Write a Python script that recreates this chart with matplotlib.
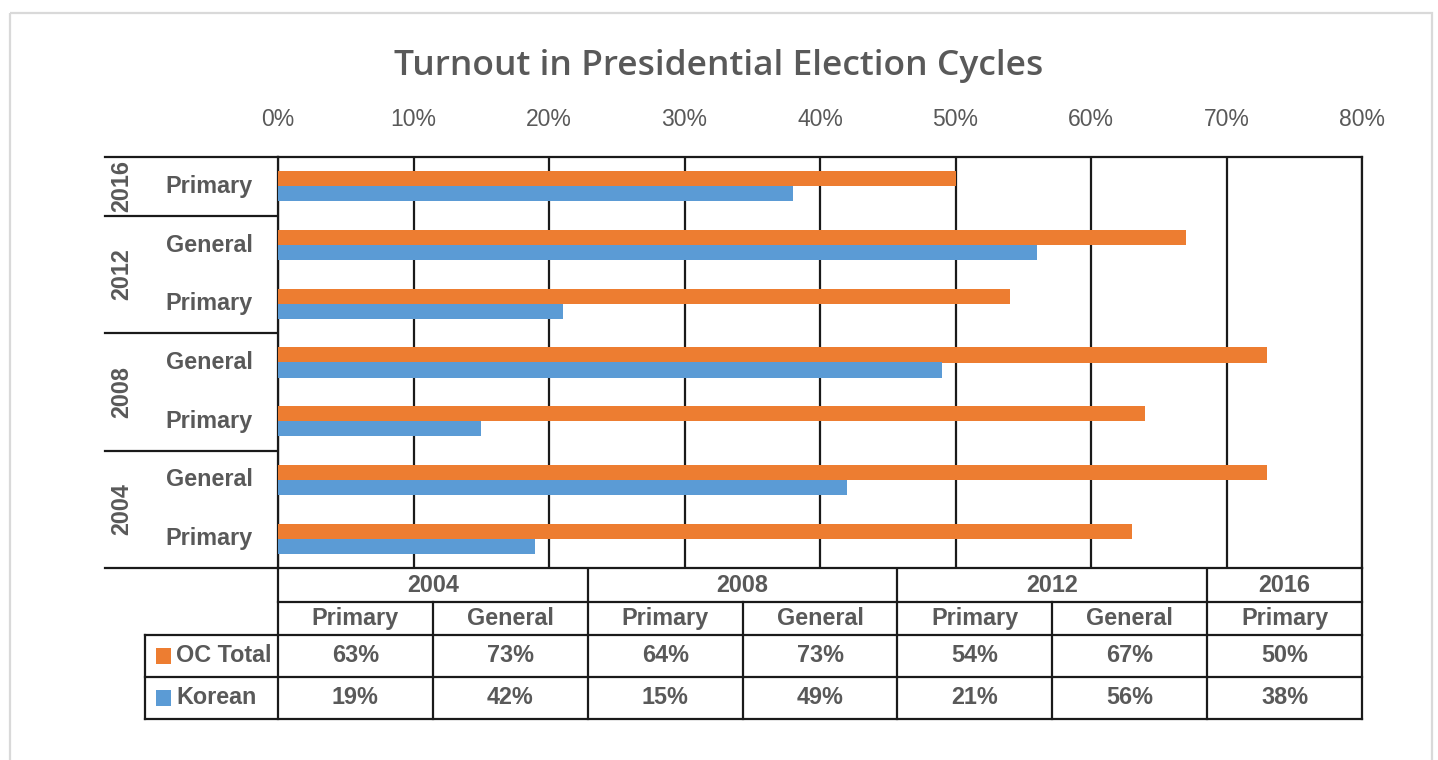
import matplotlib.pyplot as plt
from matplotlib.patches import Rectangle
import matplotlib.transforms as mtransforms

# turnout by election, oldest first (bottom of the chart)
cycle_years = ['2004', '2004', '2008', '2008', '2012', '2012', '2016']
stages = ['Primary', 'General', 'Primary', 'General', 'Primary', 'General', 'Primary']
oc_total = [63, 73, 64, 73, 54, 67, 50]
korean = [19, 42, 15, 49, 21, 56, 38]
series_names = ['OC Total', 'Korean']
x_ticks = [0, 10, 20, 30, 40, 50, 60, 70, 80]

ORANGE = '#ED7D31'
BLUE = '#5B9BD5'
GREY = '#595959'
LINE = '#1a1a1a'
W, H = 1438, 760
L, R, T, B = 278, 1362, 157, 568      # plot area in pixels
LW = 1.6

label_font = dict(family='Liberation Sans', weight='bold', size=16.8, color=GREY)

fig = plt.figure(figsize=(W / 100, H / 100), dpi=100)

# full-figure overlay in pixel units for frame, labels and the data table
over = fig.add_axes([0, 0, 1, 1])
over.set_xlim(0, W)
over.set_ylim(H, 0)
over.axis('off')

ax = fig.add_axes([L / W, 1 - B / H, (R - L) / W, (B - T) / H])

n = len(stages)
ypos = list(range(n))
h = 0.2555
ax.barh([y + h / 2 for y in ypos], oc_total, height=h, color=ORANGE, zorder=3)
ax.barh([y - h / 2 for y in ypos], korean, height=h, color=BLUE, zorder=3)

ax.set_xlim(0, 80)
ax.set_ylim(-0.5, n - 0.5)
ax.set_xticks(x_ticks)
ax.set_xticklabels([f'{v}%' for v in x_ticks], family='Liberation Sans',
                   size=16.5, color=GREY)
ax.xaxis.tick_top()
ax.tick_params(axis='x', length=0, pad=19)
ax.set_yticks([])
ax.grid(axis='x', color=LINE, lw=LW, zorder=1)
ax.set_axisbelow(True)
for s in ax.spines.values():
    s.set_color(LINE)
    s.set_linewidth(LW)

# category axis: stage labels and rotated year groups
ytr = mtransforms.blended_transform_factory(over.transData, ax.transData)
for y, st in zip(ypos, stages):
    over.text(209, y, st, transform=ytr, ha='center', va='center', **label_font)

years = []
for yr in cycle_years:
    if yr not in years:
        years.append(yr)
over.plot([105, L], [-0.5, -0.5], transform=ytr, color=LINE, lw=LW)
for yr in years:
    idx = [i for i, c in enumerate(cycle_years) if c == yr]
    over.text(122, (idx[0] + idx[-1]) / 2, yr, transform=ytr, rotation=90,
              ha='center', va='center', **label_font)
    over.plot([105, L], [idx[-1] + 0.5] * 2, transform=ytr, color=LINE, lw=LW)

# data table under the plot
cw = (R - L) / n
rows = [B, 602, 635, 677, 719]
LEG = 145


def hline(y, x0, x1):
    over.plot([x0, x1], [y, y], color=LINE, lw=LW, solid_capstyle='projecting')


def vline(x, y0, y1):
    over.plot([x, x], [y0, y1], color=LINE, lw=LW, solid_capstyle='projecting')


hline(rows[1], L, R)
for y in rows[2:]:
    hline(y, LEG, R)
vline(LEG, rows[2], rows[4])
vline(L, rows[0], rows[4])
vline(R, rows[0], rows[4])

for yr in years:
    idx = [i for i, c in enumerate(cycle_years) if c == yr]
    x0, x1 = L + idx[0] * cw, L + (idx[-1] + 1) * cw
    over.text((x0 + x1) / 2, (rows[0] + rows[1]) / 2 + 1, yr,
              ha='center', va='center', **label_font)
    if idx[-1] + 1 < n:
        vline(x1, rows[0], rows[4])
    for i in idx[:-1]:
        vline(L + (i + 1) * cw, rows[1], rows[4])

for i in range(n):
    xc = L + (i + 0.5) * cw
    over.text(xc, (rows[1] + rows[2]) / 2, stages[i], ha='center', va='center', **label_font)
    over.text(xc, (rows[2] + rows[3]) / 2, f'{oc_total[i]}%', ha='center', va='center', **label_font)
    over.text(xc, (rows[3] + rows[4]) / 2, f'{korean[i]}%', ha='center', va='center', **label_font)

for k, (name, col) in enumerate(zip(series_names, [ORANGE, BLUE])):
    yc = (rows[2 + k] + rows[3 + k]) / 2
    over.add_patch(Rectangle((156, yc - 8), 15, 16, color=col, lw=0))
    over.text(176, yc, name, ha='left', va='center', **label_font)

# chart frame and title
over.add_patch(Rectangle((10, 13), 1422, 760, fill=False, edgecolor='#d9d9d9', lw=1.6))
over.text(W / 2, 75, 'Turnout in Presidential Election Cycles', ha='center',
          va='baseline', family='Open Sans', weight='semibold', size=25.5, color=GREY)

fig.savefig('out.png', dpi=100)
